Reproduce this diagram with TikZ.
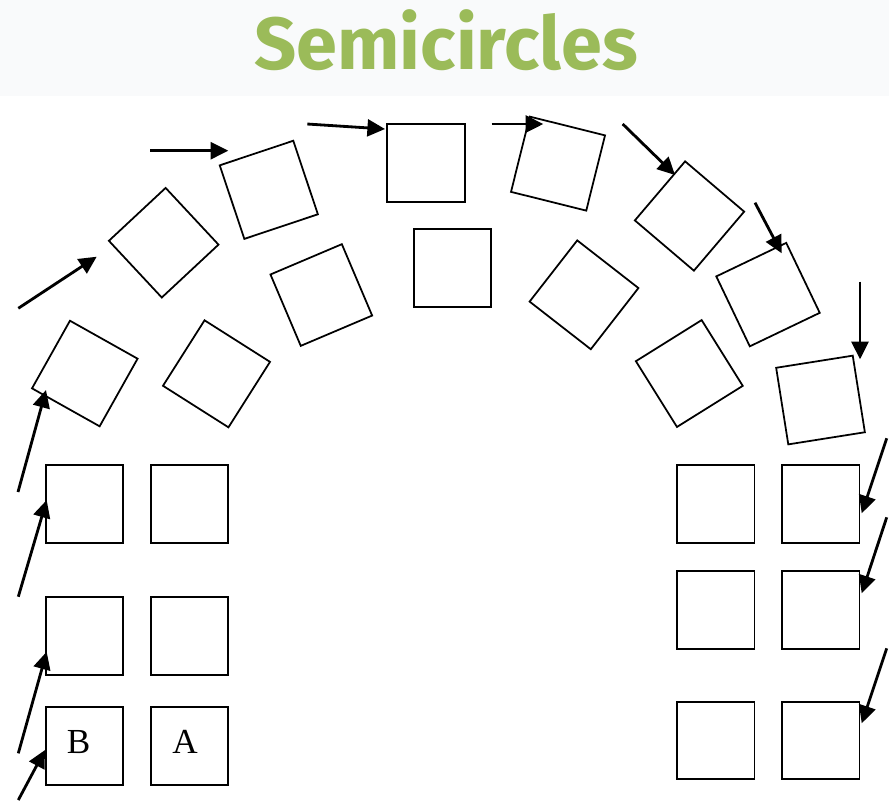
\documentclass[tikz,border=0pt]{standalone}
\usepackage{fontspec}
\usetikzlibrary{arrows.meta}
\newfontfamily\titlefont{Fira Sans}
\newfontfamily\seatfont{Liberation Serif}
\definecolor{titlegreen}{RGB}{155,187,89}
\definecolor{headband}{RGB}{249,250,251}

\begin{document}
\begin{tikzpicture}[
    x=0.01cm, y=-0.01cm,
    seat/.style={draw, line width=0.5pt, minimum size=0.775cm, inner sep=0pt, font=\seatfont\fontsize{10}{12}\selectfont},
    arr/.style={-{Triangle[length=5pt, width=4.8pt]}, line width=0.8pt},
    title/.style={font=\titlefont\bfseries\fontsize{21}{24}\selectfont, text=titlegreen},
]
\useasboundingbox (0,0) rectangle (889,802);

% heading band
\fill[headband] (0,0) rectangle (889,96);
\node[title] (ttl) at (446,40) {Semicircles};

% outer arc
\foreach \n/\x/\y/\r in {L0/84.8/373.5/-29.3, L1/163.7/242.7/43, L2/268.8/189.8/18.5,
    T0/426/163/0, R1/558/163.6/-14, R2/689.5/216/-40.4, R3/768/294.6/25.6, R4/820.5/400/9} {
    \node[seat, rotate=\r] (\n) at (\x,\y) {};
}

% inner arc
\foreach \n/\x/\y/\r in {I0/216.5/373.8/-32.4, I1/321.3/295/23, I2/452.5/268/0,
    I3/584/294.8/-37.9, I4/689.3/373.5/32} {
    \node[seat, rotate=\r] (\n) at (\x,\y) {};
}

% straight rows, left side
\node[seat] (GL1) at (84.5,504) {};
\node[seat] (GL2) at (189.5,504) {};
\node[seat] (GL3) at (84.5,636) {};
\node[seat] (GL4) at (189.5,636) {};
\node[seat] (GL5) at (84.5,746) {};
\node[seat] (GL6) at (189.5,746) {};
\node[font=\seatfont\fontsize{10}{12}\selectfont] (lblB) at (78.5,742) {B};
\node[font=\seatfont\fontsize{10}{12}\selectfont] (lblA) at (185,742) {A};

% straight rows, right side
\foreach \i/\y in {1/504, 2/610, 3/740.5} {
    \node[seat] (GRa\i) at (715.8,\y) {};
    \node[seat] (GRb\i) at (820.8,\y) {};
}

% direction arrows
\foreach \i/\ax/\ay/\bx/\by in {1/18.3/308.3/96.7/256.7, 2/150/150.7/228.3/150.7,
    3/307.3/124/385/129, 4/491.7/124/543.3/124, 5/622.7/124/675/175,
    6/755/202.7/781.7/253.3, 7/860/281.7/860/359.3, 8/18/492/46/390,
    9/18.3/596.7/46.7/500, 10/18.3/753.3/46.7/651.7, 11/18.3/800/45/750,
    12/886.7/438.3/861.7/513.3, 13/886.7/517.3/861.7/593.3, 14/886.7/648.3/861.7/723.3} {
    \coordinate (tail\i) at (\ax,\ay);
    \coordinate (head\i) at (\bx,\by);
    \draw[arr] (tail\i) -- (head\i);
}

\end{tikzpicture}
\end{document}
